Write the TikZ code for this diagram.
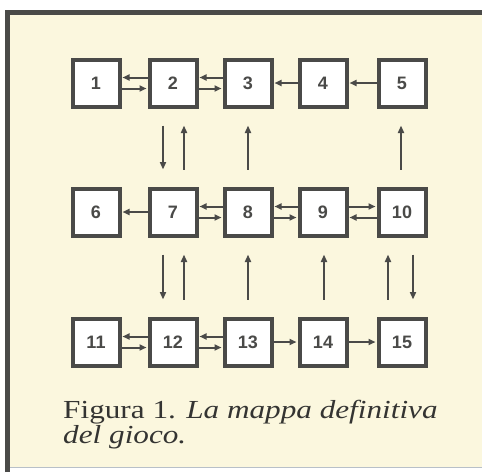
\documentclass[tikz,border=0pt]{standalone}
\usepackage{fontspec}
\setmainfont{Liberation Serif}
\newfontfamily\numfont{Liberation Sans}
\usetikzlibrary{arrows.meta}
\definecolor{bg}{HTML}{FBF7DE}
\definecolor{ink}{HTML}{4A4A48}
\definecolor{edge}{HTML}{B8C0C8}
\begin{document}
\begin{tikzpicture}[x=1pt,y=-1pt,
  box/.style={draw=ink, line width=4pt, fill=white, minimum size=47pt, inner sep=0pt,
    font=\numfont\bfseries\fontsize{18}{18}\selectfont, text=ink},
  arr/.style={draw=ink, line width=2pt, -{Triangle[length=7pt,width=6pt]}, shorten >=1pt},
  varr/.style={draw=ink, line width=2pt, -{Triangle[length=7.5pt,width=6pt]}, shorten >=17pt, shorten <=17pt},
  captext/.style={anchor=base west, inner sep=0pt, text=ink!70!black, xscale=1.2,
    font=\fontsize{26}{26}\selectfont}]
\useasboundingbox (0,0) rectangle (482,472);
\fill[white] (0,0) rectangle (482,472);
\fill[bg] (7,12) rectangle (482,467);
\draw[edge, line width=1.5pt] (7,467.5) -- (482,467.5);
\draw[ink, line width=5pt] (7.5,472) -- (7.5,12.5) -- (482,12.5);
% row 1
\node[box] (n1) at (96,83) {1};
\node[box] (n2) at (173,83) {2};
\node[box] (n3) at (248,83) {3};
\node[box] (n4) at (323,83) {4};
\node[box] (n5) at (402,83) {5};
% row 2
\node[box] (n6) at (96,212) {6};
\node[box] (n7) at (173,212) {7};
\node[box] (n8) at (248,212) {8};
\node[box] (n9) at (323,212) {9};
\node[box] (n10) at (402,212) {10};
% row 3
\node[box] (n11) at (96,342) {11};
\node[box] (n12) at (173,342) {12};
\node[box] (n13) at (248,342) {13};
\node[box] (n14) at (323,342) {14};
\node[box] (n15) at (402,342) {15};
% row 1 horizontal
\draw[arr] ([yshift=5.5pt]n2.west) -- ([yshift=5.5pt]n1.east);
\draw[arr] ([yshift=-5.5pt]n1.east) -- ([yshift=-5.5pt]n2.west);
\draw[arr] ([yshift=5.5pt]n3.west) -- ([yshift=5.5pt]n2.east);
\draw[arr] ([yshift=-5.5pt]n2.east) -- ([yshift=-5.5pt]n3.west);
\draw[arr] (n4.west) -- (n3.east);
\draw[arr] (n5.west) -- (n4.east);
% row 2 horizontal
\draw[arr] (n7.west) -- (n6.east);
\draw[arr] ([yshift=5.5pt]n8.west) -- ([yshift=5.5pt]n7.east);
\draw[arr] ([yshift=-5.5pt]n7.east) -- ([yshift=-5.5pt]n8.west);
\draw[arr] ([yshift=5.5pt]n9.west) -- ([yshift=5.5pt]n8.east);
\draw[arr] ([yshift=-5.5pt]n8.east) -- ([yshift=-5.5pt]n9.west);
\draw[arr] ([yshift=5.5pt]n9.east) -- ([yshift=5.5pt]n10.west);
\draw[arr] ([yshift=-5.5pt]n10.west) -- ([yshift=-5.5pt]n9.east);
% row 3 horizontal
\draw[arr] ([yshift=5.5pt]n12.west) -- ([yshift=5.5pt]n11.east);
\draw[arr] ([yshift=-5.5pt]n11.east) -- ([yshift=-5.5pt]n12.west);
\draw[arr] ([yshift=5.5pt]n13.west) -- ([yshift=5.5pt]n12.east);
\draw[arr] ([yshift=-5.5pt]n12.east) -- ([yshift=-5.5pt]n13.west);
\draw[arr] (n13.east) -- (n14.west);
\draw[arr] (n14.east) -- (n15.west);
% vertical row1-row2
\draw[varr] ([xshift=-10pt]n2.south) -- ([xshift=-10pt]n7.north);
\draw[varr] ([xshift=11pt]n7.north) -- ([xshift=11pt]n2.south);
\draw[varr] (n8.north) -- (n3.south);
\draw[varr] ([xshift=-1pt]n10.north) -- ([xshift=-1pt]n5.south);
% vertical row2-row3
\draw[varr] ([xshift=-10pt]n7.south) -- ([xshift=-10pt]n12.north);
\draw[varr] ([xshift=11pt]n12.north) -- ([xshift=11pt]n7.south);
\draw[varr] (n13.north) -- (n8.south);
\draw[varr] ([xshift=1pt]n14.north) -- ([xshift=1pt]n9.south);
\draw[varr] ([xshift=-14pt]n15.north) -- ([xshift=-14pt]n10.south);
\draw[varr] ([xshift=11pt]n10.south) -- ([xshift=11pt]n15.north);
% caption
\node[captext] (c1) at (63,418) {Figura 1. \textit{La mappa definitiva}};
\node[captext] (c2) at (63,443) {\textit{del gioco.}};
\end{tikzpicture}
\end{document}
